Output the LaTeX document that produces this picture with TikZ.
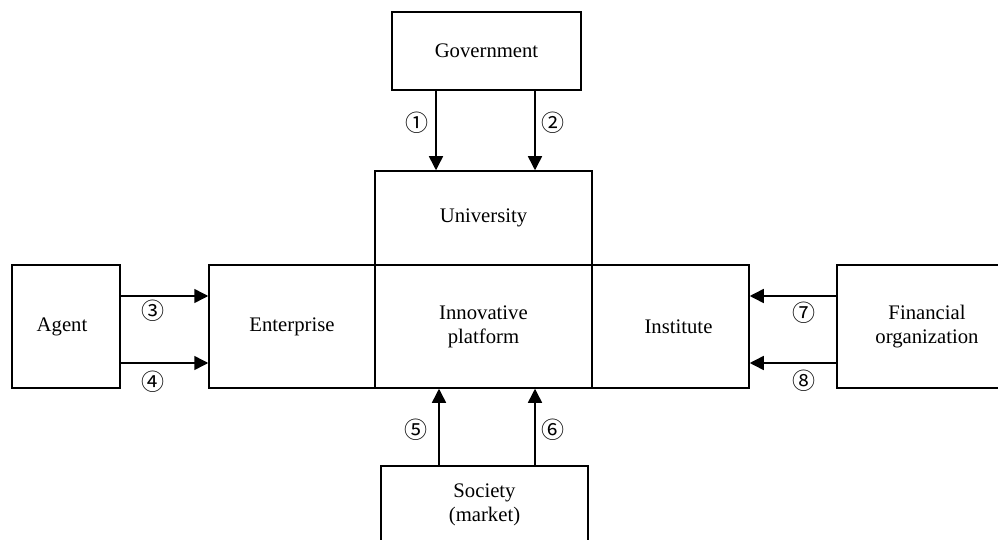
\documentclass[tikz,border=0pt]{standalone}
\usepackage{fontspec}
\setmainfont{Liberation Serif}
\newfontfamily\circfont{Noto Sans CJK SC}
\usetikzlibrary{arrows.meta}
\begin{document}
\begin{tikzpicture}[x=1pt,y=-1pt,
  box/.style={draw, line width=1.5pt, inner sep=0pt, align=center, font=\fontsize{20.7}{24}\selectfont},
  arr/.style={line width=1.5pt, -{Triangle[length=14pt,width=14pt]}},
  num/.style={font=\circfont\fontsize{23}{24}\selectfont, inner sep=0pt}]
\useasboundingbox (0,0) rectangle (998,540);
% boxes
\node[box, minimum width=189pt, minimum height=78pt] (gov) at (486.5,51) {Government};
\node[box, minimum width=217pt, minimum height=94pt] (uni) at (483.5,218) {University};
\node[box, minimum width=166pt, minimum height=123pt] (ent) at (292,326.5) {Enterprise};
\node[box, minimum width=217pt, minimum height=123pt] (plat) at (483.5,326.5) {Innovative\\platform};
\node[box, minimum width=157pt, minimum height=123pt] (inst) at (670.5,326.5) {\hspace*{16pt}Institute};
\node[box, minimum width=108pt, minimum height=123pt] (agent) at (66,326.5) {Agent\hspace*{8pt}};
\node[box, minimum width=180pt, minimum height=123pt] (fin) at (927,326.5) {Financial\\organization};
\node[box, minimum width=207pt, minimum height=78pt] (soc) at (484.5,505) {Society\\(market)};
% guide coordinates
\coordinate (c1) at (436,0);
\coordinate (c2) at (535,0);
\coordinate (c5) at (439,0);
\coordinate (c6) at (535,0);
\coordinate (r1) at (0,296);
\coordinate (r2) at (0,363);
% arrows
\draw[arr] (gov.south -| c1) -- (uni.north -| c1);
\draw[arr] (gov.south -| c2) -- (uni.north -| c2);
\draw[arr] (agent.east |- r1) -- (ent.west |- r1);
\draw[arr] (agent.east |- r2) -- (ent.west |- r2);
\draw[arr] (fin.west |- r1) -- (inst.east |- r1);
\draw[arr] (fin.west |- r2) -- (inst.east |- r2);
\draw[arr] (soc.north -| c5) -- (plat.south -| c5);
\draw[arr] (soc.north -| c6) -- (plat.south -| c6);
% labels
\node[num] (n1) at (417,123) {①};
\node[num] (n2) at (553,123) {②};
\node[num] (n3) at (153,311) {③};
\node[num] (n4) at (153,382) {④};
\node[num] (n5) at (416,430) {⑤};
\node[num] (n6) at (553,430) {⑥};
\node[num] (n7) at (804,313) {⑦};
\node[num] (n8) at (804,381) {⑧};
\end{tikzpicture}
\end{document}
